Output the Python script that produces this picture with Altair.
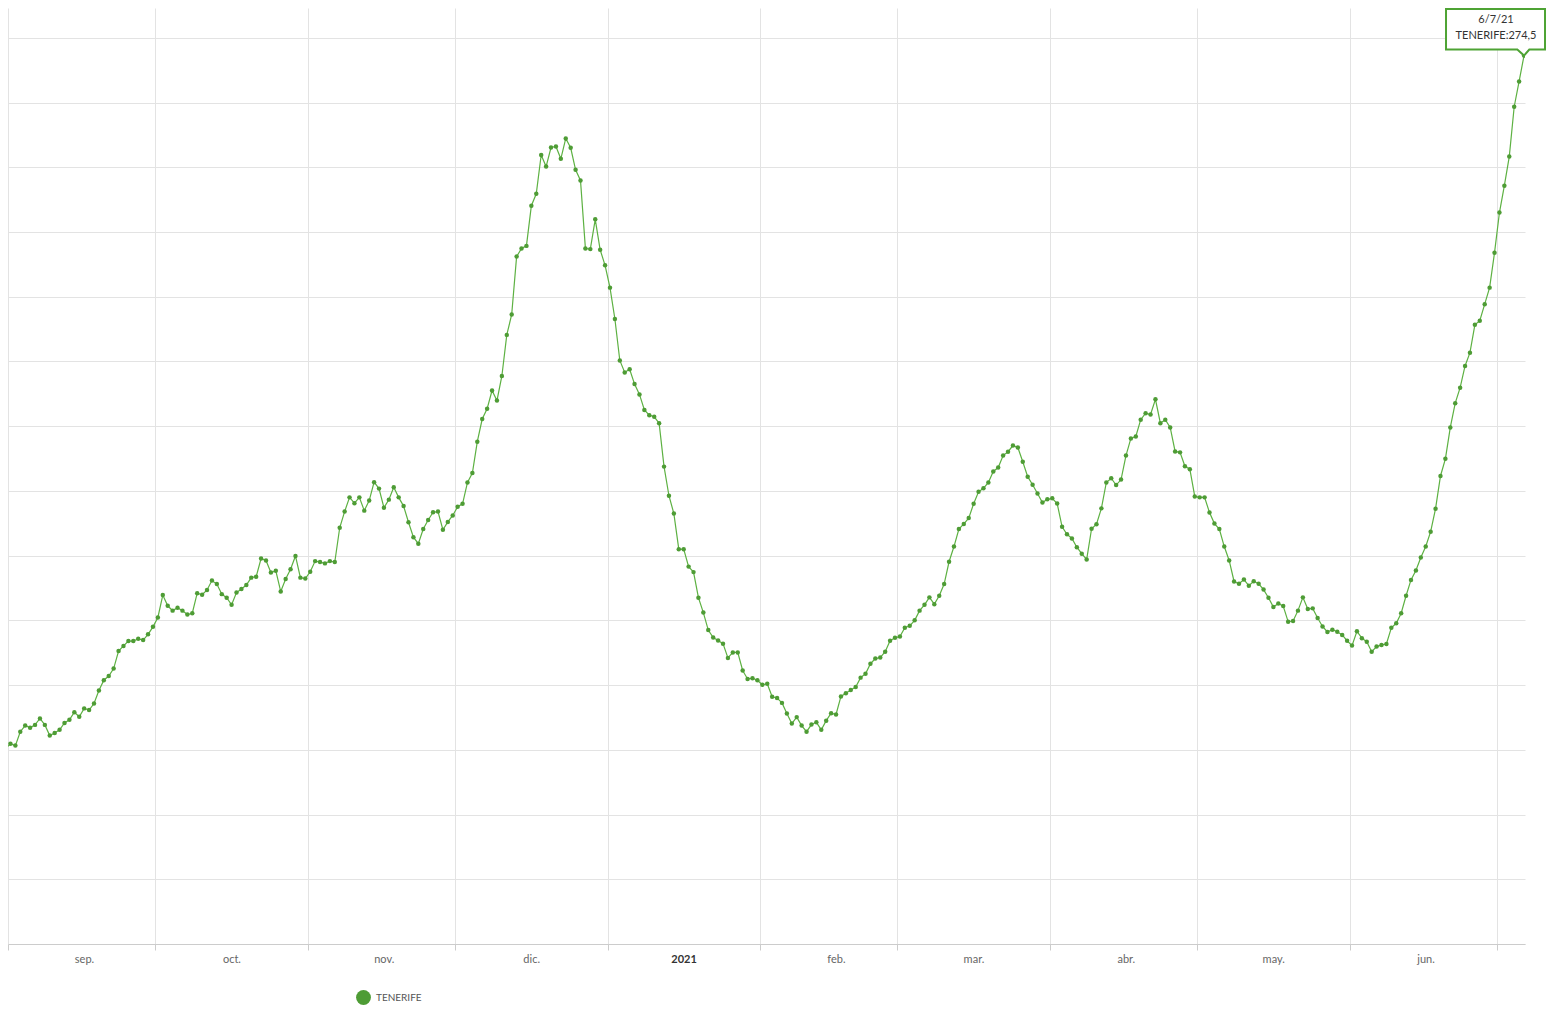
import altair as alt
import pandas as pd

SERIES = "TENERIFE"
FIRST_DAY = "2020-08-30 12:00"

# daily values, split by month
AUG = [58.1, 60.3]
SEP = [61.9, 61.3, 65.6, 67.5, 66.8, 67.7, 69.7, 67.7, 64.4, 65.2,
       66.2, 68.3, 69.3, 71.6, 70.2, 72.8, 72.3, 74.3, 78.3, 81.5,
       82.8, 85.1, 90.5, 92.1, 93.6, 93.6, 94.3, 93.9, 95.7, 98.0]
OCT = [100.9, 107.8, 104.5, 103.0, 103.9, 103.0, 101.8, 102.2, 108.4, 107.9,
       109.4, 112.3, 111.2, 108.1, 107.0, 104.8, 108.6, 109.7, 110.9, 113.2,
       113.5, 119.1, 118.5, 114.8, 115.3, 108.9, 112.8, 115.8, 119.9, 113.2,
       112.9]
NOV = [115.0, 118.3, 118.0, 117.6, 118.3, 118.0, 128.6, 133.6, 138.0, 136.2,
       138.0, 133.9, 137.0, 142.7, 140.7, 134.8, 137.3, 141.1, 138.0, 135.3,
       130.3, 125.7, 123.7, 128.2, 131.0, 133.4, 133.6, 128.0, 130.4, 132.4]
DEC = [135.1, 136.0, 142.6, 145.5, 155.2, 162.2, 165.4, 171.0, 167.9, 175.5,
       188.2, 194.5, 212.4, 214.9, 215.7, 228.1, 231.8, 243.8, 240.2, 246.1,
       246.4, 242.6, 248.9, 246.0, 239.2, 235.9, 214.9, 214.7, 223.9, 214.5,
       209.7]
JAN = [202.8, 193.1, 180.3, 176.6, 177.6, 173.0, 169.8, 165.0, 163.4, 162.9,
       160.9, 147.5, 138.5, 133.0, 122.0, 122.0, 116.6, 114.9, 107.0, 102.4,
       97.0, 94.7, 93.8, 92.8, 88.4, 90.1, 90.1, 84.5, 81.9, 82.1,
       81.5]
FEB = [80.1, 80.4, 76.4, 76.0, 74.5, 71.2, 68.1, 70.1, 67.5, 65.6,
       67.8, 68.5, 66.2, 69.0, 71.3, 70.9, 76.5, 77.5, 78.5, 79.4,
       82.3, 83.5, 86.6, 88.2, 88.5, 90.3, 93.7, 94.6]
MAR = [95.0, 97.7, 98.3, 100.0, 103.0, 104.8, 107.1, 105.0, 107.6, 111.2,
       118.1, 122.8, 128.2, 129.8, 131.6, 136.0, 139.7, 140.8, 142.6, 146.0,
       147.2, 150.9, 152.1, 154.0, 153.4, 149.0, 144.4, 141.9, 139.2, 136.4,
       137.4]
APR = [137.7, 136.1, 128.9, 126.6, 125.3, 122.6, 120.6, 118.8, 128.3, 129.7,
       134.6, 142.6, 143.9, 141.8, 143.5, 150.9, 156.2, 156.8, 162.0, 164.0,
       163.6, 168.3, 160.9, 162.0, 159.6, 152.2, 151.9, 147.6, 146.7, 138.3]
MAY = [138.0, 138.0, 133.3, 129.9, 128.2, 122.8, 118.5, 112.0, 111.3, 112.6,
       110.7, 112.1, 111.3, 109.5, 107.0, 104.1, 105.2, 104.4, 99.6, 99.8,
       103.0, 107.1, 103.5, 103.7, 100.7, 98.1, 96.4, 97.1, 96.5, 95.5,
       93.7]
JUN = [92.2, 96.6, 94.5, 93.4, 90.3, 91.9, 92.4, 92.7, 97.7, 99.1,
       102.2, 107.6, 112.5, 115.4, 119.4, 122.8, 127.4, 134.5, 144.6, 149.9,
       159.6, 167.1, 171.9, 178.6, 182.7, 191.3, 192.6, 197.7, 202.8, 213.6]
JUL = [226.0, 234.3, 243.3, 258.7, 266.5, 274.5]

MONTH_LABELS = ["ene.", "feb.", "mar.", "abr.", "may.", "jun.",
                "jul.", "ago.", "sep.", "oct.", "nov.", "dic."]
MONTH_STARTS = [(2020, 9), (2020, 10), (2020, 11), (2020, 12), (2021, 1), (2021, 2),
                (2021, 3), (2021, 4), (2021, 5), (2021, 6), (2021, 7)]
Y_TICKS = list(range(0, 281, 20))

LINE_COLOR = "#5db142"
POINT_COLOR = "#4e9c35"
BOX_COLOR = "#4ea334"
GRID = "#e3e3e3"

values = AUG + SEP + OCT + NOV + DEC + JAN + FEB + MAR + APR + MAY + JUN + JUL
dates = pd.date_range(FIRST_DAY, periods=len(values), freq="D")
df = pd.DataFrame({"fecha": dates, "valor": values, "serie": SERIES})

last = df.tail(1).copy()
d = last["fecha"].iloc[0]
v = last["valor"].iloc[0]
last["l1"] = f"{d.day}/{d.month}/{d.year % 100}"
last["l2"] = f"{SERIES}:{v:.1f}".replace(".", ",")

x_domain = [alt.DateTime(year=2020, month=9, date=1, hours=0, minutes=0),
            alt.DateTime(year=2021, month=7, date=6, hours=16, minutes=48)]
month_ticks = [alt.DateTime(year=yy, month=mm, date=1) for yy, mm in MONTH_STARTS]

label_expr = ("month(datum.value) == 0 ? timeFormat(datum.value, '%Y') : "
              "(month(datum.value) == 6 ? '' : " + str(MONTH_LABELS) + "[month(datum.value)])")

x = alt.X("fecha:T",
          scale=alt.Scale(domain=x_domain),
          axis=alt.Axis(values=month_ticks, title=None, grid=True, gridColor=GRID,
                        domainColor="#cccccc", tickColor="#cccccc", tickSize=6,
                        labelOffset=76, labelPadding=3, labelExpr=label_expr,
                        labelFlush=False, labelOverlap=False, labelBound=False,
                        labelFont="Lato", labelFontSize=11,
                        labelFontWeight={"condition": {"test": "month(datum.value) == 0", "value": "bold"},
                                         "value": "normal"},
                        labelColor={"condition": {"test": "month(datum.value) == 0", "value": "#333333"},
                                    "value": "#666666"}))
y = alt.Y("valor:Q",
          scale=alt.Scale(domain=[0, 289.2], nice=False, zero=True),
          axis=alt.Axis(values=Y_TICKS, labels=False, ticks=False, domain=False,
                        title=None, gridColor=GRID))

base = alt.Chart(df)
line = base.mark_line(color=LINE_COLOR, strokeWidth=1.2, clip=True).encode(x=x, y=y)
pts = base.mark_point(filled=True, size=20, opacity=1, clip=True).encode(
    x=x, y=y,
    color=alt.Color("serie:N", scale=alt.Scale(range=[POINT_COLOR]),
                    legend=alt.Legend(title=None, orient="none", legendX=348, legendY=982,
                                      padding=0, symbolSize=220, symbolType="circle",
                                      symbolStrokeWidth=0, labelFont="Lato",
                                      labelFontSize=10, labelColor="#555555",
                                      labelOffset=5)))

BOX_PATH = ("M -0.78 -0.467 L 0.21 -0.467 L 0.21 -0.06 L 0.053 -0.06 "
            "L 0 0 L -0.067 -0.06 L -0.78 -0.06 Z")
tip = alt.Chart(last)
box = tip.mark_point(shape=BOX_PATH, size=40000, filled=True, fill="white",
                     stroke=BOX_COLOR, strokeWidth=2, opacity=1, fillOpacity=1,
                     strokeOpacity=1).encode(x=x, y=y)
t1 = tip.mark_text(dx=-28, dy=-36, font="Lato", fontSize=11, color="#333333").encode(
    x=x, y=y, text="l1:N")
t2 = tip.mark_text(dx=-28, dy=-20, font="Lato", fontSize=11, color="#333333").encode(
    x=x, y=y, text="l2:N")

chart = alt.layer(line, pts, box, t1, t2).properties(
    width=1517, height=936,
    autosize=alt.AutoSizeParams(type="none"),
    padding={"left": 0, "top": 0, "right": 21, "bottom": 64},
).configure_view(stroke=None)

chart.save("out.html", embed_options={"renderer": "svg", "actions": False})
